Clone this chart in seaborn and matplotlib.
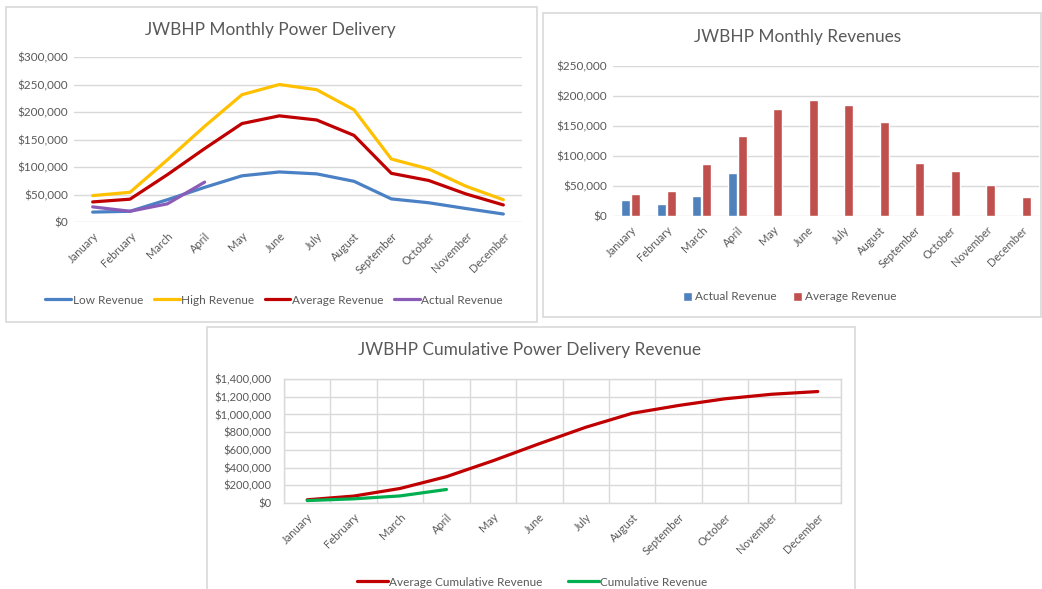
import numpy as np
import pandas as pd
import seaborn as sns
import matplotlib.pyplot as plt
from matplotlib.patches import Rectangle
from matplotlib.ticker import StrMethodFormatter

# Datos
meses = ['January', 'February', 'March', 'April', 'May', 'June', 'July',
         'August', 'September', 'October', 'November', 'December']
low_rev = [18000, 19500, 40500, 63000, 84000, 91000, 87500, 74000, 42000, 35000, 24500, 14500]
high_rev = [48000, 54000, 113000, 174000, 231500, 250000, 240500, 204000, 114500, 96500, 65000, 40500]
avg_rev = [36500, 41500, 86000, 133500, 179000, 193000, 185500, 157500, 88500, 75500, 51000, 31000]
actual_rev = [27500, 19500, 33000, 72500]
avg_cum = [36500, 78000, 164000, 297500, 476500, 669500, 855000, 1012500, 1101000, 1176500, 1227500, 1258500]
actual_cum = [27500, 47000, 80000, 152500]

sns.set_theme(style='white')
plt.rcParams['font.family'] = ['Lato', 'DejaVu Sans']
gris = '#595959'
linea = '#d9d9d9'

W, H = 1042, 589
fig = plt.figure(figsize=(W / 100, H / 100), dpi=100)


def caja(x0, y0, x1, y1):
    return [x0 / W, 1 - y1 / H, (x1 - x0) / W, (y1 - y0) / H]


def marco(x0, y0, x1, y1):
    fig.add_artist(Rectangle((x0 / W, 1 - y1 / H), (x1 - x0) / W, (y1 - y0) / H,
                             transform=fig.transFigure, fill=False, ec=linea, lw=1.2))


marco(6, 7, 537, 322)
marco(543, 13, 1041, 317)
marco(207, 327, 855, 600)

fmt = StrMethodFormatter('${x:,.0f}')


def estilo(ax, ymax, paso, fs=8.5, ypad=4):
    ax.set_ylim(0, ymax)
    ax.set_yticks(np.arange(0, ymax + 1, paso))
    ax.yaxis.set_major_formatter(fmt)
    ax.set_xticks(range(12))
    ax.set_xticklabels(meses, rotation=45, ha='right', rotation_mode='anchor')
    ax.tick_params(axis='both', length=0, colors=gris)
    ax.tick_params(axis='y', labelsize=fs, pad=ypad)
    ax.tick_params(axis='x', pad=6, labelsize=8)
    ax.set_xlabel('')
    ax.set_ylabel('')
    ax.grid(axis='y', color=linea, lw=1)
    ax.set_axisbelow(True)


# Gráfico 1: entrega mensual
ax1 = fig.add_axes(caja(74, 57, 522, 222))
df1 = pd.DataFrame({
    'Mes': meses * 3 + meses[:4],
    'Revenue': low_rev + high_rev + avg_rev + actual_rev,
    'Serie': ['Low Revenue'] * 12 + ['High Revenue'] * 12 + ['Average Revenue'] * 12 + ['Actual Revenue'] * 4,
})
pal1 = {'Low Revenue': '#4a80c4', 'High Revenue': '#ffc000',
        'Average Revenue': '#c00000', 'Actual Revenue': '#8a5cb8'}
sns.lineplot(data=df1, x='Mes', y='Revenue', hue='Serie', palette=pal1, lw=2.3,
             sort=False, ax=ax1)
ax1.set_xlim(-0.5, 11.5)
estilo(ax1, 300000, 50000)
sns.despine(ax=ax1, left=True, bottom=True)
ax1.legend(loc='center', bbox_to_anchor=(274 / W, 1 - 300 / H), bbox_transform=fig.transFigure,
           ncol=4, frameon=False, fontsize=8.5, handlelength=2.2, handletextpad=0.1,
           columnspacing=0.9, labelcolor=gris)
fig.text(270 / W, 1 - 30 / H, 'JWBHP Monthly Power Delivery', ha='center', va='center',
         fontsize=12.4, color=gris)

# Gráfico 2: ingresos mensuales
ax2 = fig.add_axes(caja(613, 66, 1039, 216))
df2 = pd.DataFrame({
    'Mes': meses[:4] + meses,
    'Revenue': actual_rev + avg_rev,
    'Serie': ['Actual Revenue'] * 4 + ['Average Revenue'] * 12,
})
pal2 = {'Actual Revenue': '#4f81bd', 'Average Revenue': '#c0504d'}
sns.barplot(data=df2, x='Mes', y='Revenue', hue='Serie', order=meses, palette=pal2,
            width=0.56, gap=0.12, saturation=1, ax=ax2)
estilo(ax2, 250000, 50000)
sns.despine(ax=ax2, left=True, bottom=True)
ax2.legend(loc='center', bbox_to_anchor=(790 / W, 1 - 297 / H), bbox_transform=fig.transFigure,
           ncol=2, frameon=False, fontsize=8.5, handlelength=0.7, handleheight=0.7,
           handletextpad=0.3, columnspacing=1.4, labelcolor=gris)
fig.text(798 / W, 1 - 37 / H, 'JWBHP Monthly Revenues', ha='center', va='center',
         fontsize=12.4, color=gris)

# Gráfico 3: acumulado
ax3 = fig.add_axes(caja(284, 379, 841, 503))
df3 = pd.DataFrame({
    'Mes': meses + meses[:4],
    'Revenue': avg_cum + actual_cum,
    'Serie': ['Average Cumulative Revenue'] * 12 + ['Cumulative Revenue'] * 4,
})
pal3 = {'Average Cumulative Revenue': '#c00000', 'Cumulative Revenue': '#00b050'}
sns.lineplot(data=df3, x='Mes', y='Revenue', hue='Serie', palette=pal3, lw=2.3,
             sort=False, ax=ax3)
ax3.set_xlim(-0.5, 11.5)
estilo(ax3, 1400000, 200000, fs=8, ypad=9)
ax3.set_xticks(np.arange(-0.5, 12, 1), minor=True)
ax3.tick_params(which='minor', length=0)
ax3.grid(axis='x', which='minor', color=linea, lw=1)
for s in ax3.spines.values():
    s.set_color(linea)
    s.set_linewidth(1)
ax3.legend(loc='center', bbox_to_anchor=(532 / W, 1 - 582 / H), bbox_transform=fig.transFigure,
           ncol=2, frameon=False, fontsize=8.5, handlelength=2.6, handletextpad=0.1,
           columnspacing=2.2, labelcolor=gris)
fig.text(530 / W, 1 - 350 / H, 'JWBHP Cumulative Power Delivery Revenue', ha='center',
         va='center', fontsize=12.4, color=gris)

fig.savefig('out.png', dpi=100)
